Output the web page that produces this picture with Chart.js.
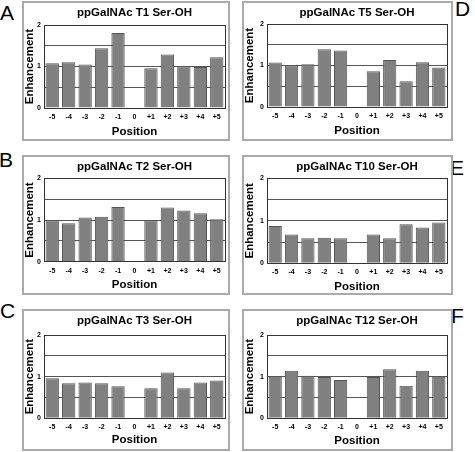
<!DOCTYPE html>
<html>
<head>
<meta charset="utf-8">
<script src="https://cdn.jsdelivr.net/npm/chart.js@4.4.1/dist/chart.umd.min.js"></script>
<style>
  body { margin: 0; background: #fff; width: 475px; height: 452px; position: relative; overflow: hidden; font-family: Arial, "Liberation Sans", sans-serif; }
  canvas { position: absolute; }
  .box { position: absolute; border: 2px solid #aaa; box-sizing: border-box; pointer-events: none; }
  .lbl { position: absolute; font-size: 21px; line-height: 21px; color: #000; }
</style>
</head>
<body>
<div class="lbl" style="left:0px;top:2px">A</div>
<div class="lbl" style="left:-1px;top:149px">B</div>
<div class="lbl" style="left:0px;top:300px">C</div>
<div class="lbl" style="left:455px;top:-2px">D</div>
<div class="lbl" style="left:450px;top:157px">E</div>
<div class="lbl" style="left:451px;top:305px">F</div>

<script>
// x categories
const positions = ['-5', '-4', '-3', '-2', '-1', '0', '+1', '+2', '+3', '+4', '+5'];
// labelled y ticks
const yLabels = [0, 1, 2];

// enhancement per position
const t1 = [1.08, 1.10, 1.05, 1.44, 1.81, 0, 0.96, 1.29, 1.00, 0.99, 1.22];
const t2 = [0.99, 0.92, 1.06, 1.08, 1.31, 0, 0.99, 1.30, 1.23, 1.16, 1.02];
const t3 = [0.96, 0.84, 0.86, 0.84, 0.77, 0, 0.72, 1.10, 0.72, 0.86, 0.91];
const t5 = [1.07, 1.00, 1.03, 1.39, 1.36, 0, 0.86, 1.13, 0.62, 1.08, 0.95];
const t10 = [0.88, 0.68, 0.59, 0.60, 0.59, 0, 0.68, 0.59, 0.92, 0.84, 0.96];
const t12 = [1.00, 1.14, 1.02, 0.99, 0.92, 0, 0.99, 1.18, 0.78, 1.14, 1.00];

// border around plot area
const plotBorder = {
    id: 'plotBorder',
    afterDatasetsDraw(chart) {
        const a = chart.chartArea;
        const ctx = chart.ctx;
        ctx.save();
        ctx.strokeStyle = '#333';
        ctx.lineWidth = 1;
        ctx.strokeRect(Math.round(a.left) + 0.5, Math.round(a.top) + 0.5, Math.round(a.right - a.left), Math.round(a.bottom - a.top));
        ctx.restore();
    }
};

function panel(title, values, box) {
    const c = document.createElement('canvas');
    c.width = box.w;
    c.height = box.h;
    c.style.left = box.x + 'px';
    c.style.top = box.y + 'px';
    document.body.appendChild(c);

    const b = document.createElement('div');
    b.className = 'box';
    b.style.left = box.x + 'px';
    b.style.top = box.y + 'px';
    b.style.width = box.w + 'px';
    b.style.height = box.h + 'px';
    document.body.appendChild(b);

    new Chart(c.getContext('2d'), {
        type: 'bar',
        data: {
            labels: positions,
            datasets: [{
                data: values,
                backgroundColor: '#808080',
                borderColor: '#555',
                borderWidth: 1,
                barPercentage: 0.9,
                categoryPercentage: 0.9
            }]
        },
        options: {
            responsive: false,
            animation: false,
            devicePixelRatio: 1,
            layout: { padding: { left: 0, right: box.rp, top: 0, bottom: 0 } },
            plugins: {
                legend: { display: false },
                tooltip: { enabled: false },
                title: {
                    display: true,
                    text: title,
                    color: '#000',
                    fullSize: false,
                    font: { family: 'Arial', size: 11.5, weight: 'bold' },
                    padding: { top: 4.8, bottom: box.top - 18.6 }
                }
            },
            scales: {
                x: {
                    grid: { display: false, drawTicks: false },
                    border: { display: false },
                    ticks: { color: '#000', padding: 5, maxRotation: 0, autoSkip: false, font: { family: 'Arial', size: 7, weight: 'bold' } },
                    title: {
                        display: true,
                        text: 'Position',
                        color: '#000',
                        font: { family: 'Arial', size: 11.5, weight: 'bold' },
                        padding: { top: 0, bottom: box.pos - 6.9 }
                    },
                    afterFit(s) { s.height = box.bottom; }
                },
                y: {
                    min: 0,
                    max: 2,
                    grid: { color: '#555', drawTicks: false },
                    border: { display: false },
                    ticks: {
                        stepSize: 0.5,
                        color: '#000',
                        padding: 3,
                        font: { family: 'Arial', size: 7, weight: 'bold' },
                        callback: v => yLabels.includes(v) ? String(v) : ''
                    },
                    title: {
                        display: true,
                        text: 'Enhancement',
                        color: '#000',
                        font: { family: 'Arial', size: 11.5, weight: 'bold' },
                        padding: { top: 1, bottom: 0 }
                    },
                    afterFit(s) { s.width = box.yw; }
                }
            }
        },
        plugins: [plotBorder]
    });
}

const leftCol = { x: 22, w: 208, yw: 22, rp: 5 };
const rightCol = { x: 242, w: 211, yw: 25, rp: 6 };

panel('ppGalNAc T1 Ser-OH', t1, { ...leftCol, y: 1, h: 140, top: 24, bottom: 33, pos: 9.5 });
panel('ppGalNAc T2 Ser-OH', t2, { ...leftCol, y: 155, h: 140, top: 23.3, bottom: 33.3, pos: 10 });
panel('ppGalNAc T3 Ser-OH', t3, { ...leftCol, y: 309, h: 142, top: 26, bottom: 32.7, pos: 11 });
panel('ppGalNAc T5 Ser-OH', t5, { ...rightCol, y: 1, h: 140, top: 23, bottom: 34, pos: 10 });
panel('ppGalNAc T10 Ser-OH', t10, { ...rightCol, y: 155, h: 140, top: 23.3, bottom: 31.7, pos: 8.5 });
panel('ppGalNAc T12 Ser-OH', t12, { ...rightCol, y: 309, h: 142, top: 26, bottom: 32.7, pos: 10.3 });
</script>
</body>
</html>
